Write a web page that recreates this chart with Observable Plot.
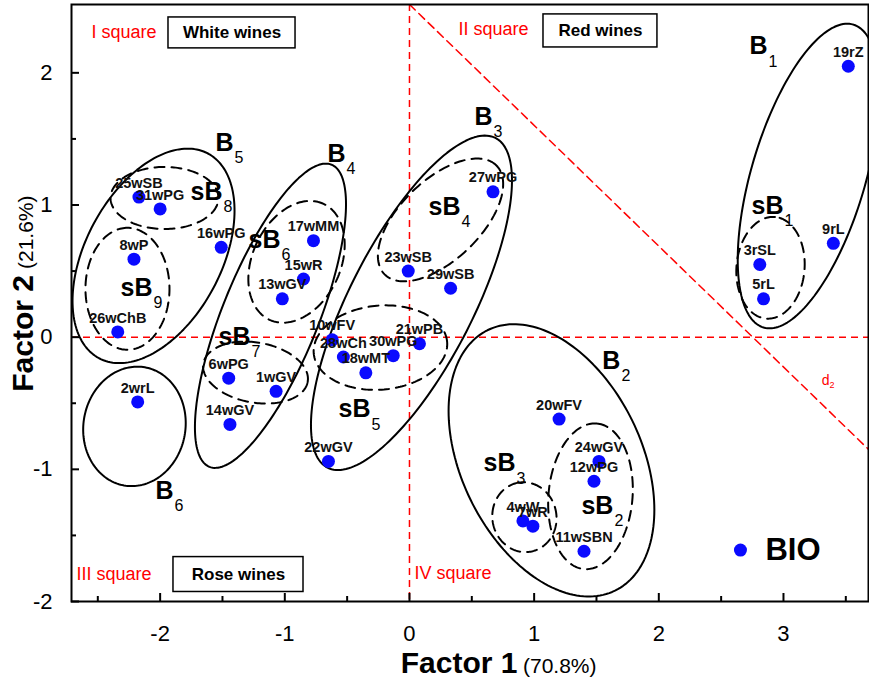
<!DOCTYPE html>
<html><head><meta charset="utf-8">
<script src="https://cdn.jsdelivr.net/npm/d3@7"></script>
<script src="https://cdn.jsdelivr.net/npm/@observablehq/plot@0.6"></script>
<style>body{margin:0;background:#fff} svg{display:block}</style>
</head><body><div id="chart"></div>
<script>
// ---- data: wine samples (Factor 1, Factor 2) ----
const sampleNames = ["19rZ","9rL","3rSL","5rL","27wPG","23wSB","29wSB","21wPB","30wPG","18wMT","28wCh","10wFV","22wGV","17wMM","15wR","13wGV","16wPG","6wPG","1wGV","14wGV","2wrL","25wSB","31wPG","8wP","26wChB","20wFV","24wGV","12wPG","4wW","7wR","11wSBN"];
const factor1 = [3.52,3.40,2.81,2.84,0.67,-0.01,0.33,0.08,-0.13,-0.35,-0.53,-0.62,-0.65,-0.77,-0.85,-1.02,-1.51,-1.45,-1.07,-1.44,-2.18,-2.17,-2.00,-2.21,-2.34,1.20,1.52,1.48,0.91,0.99,1.40];
const factor2 = [2.05,0.71,0.55,0.29,1.10,0.50,0.37,-0.05,-0.14,-0.27,-0.15,-0.02,-0.94,0.73,0.44,0.29,0.68,-0.31,-0.41,-0.66,-0.49,1.06,0.97,0.59,0.04,-0.62,-0.94,-1.09,-1.39,-1.43,-1.62];

// ---- cluster ellipses (centre in data units, semi-axes in Factor-1 units, angle in degrees) ----
const clusterIds   = ["B1","sB1","B2","sB2","sB3","B3","sB4","sB5","B4","sB6","sB7","B5","sB8","sB9","B6"];
const clusterCx    = [3.200,2.896,1.139,1.452,0.922,0.016,0.249,-0.233,-1.115,-0.906,-1.235,-2.053,-1.965,-2.262,-2.206];
const clusterCy    = [1.219,0.525,-0.932,-1.204,-1.362,0.260,0.887,-0.079,0.162,0.570,-0.268,0.615,1.053,0.366,-0.675];
const clusterA     = [1.267,0.409,1.163,0.586,0.281,1.484,0.626,0.537,1.307,0.513,0.425,0.930,0.433,0.489,0.481];
const clusterB     = [0.457,0.273,0.722,0.337,0.257,0.497,0.321,0.337,0.385,0.353,0.241,0.545,0.249,0.337,0.409];
const clusterAngle = [73.5,85,116,85,100,63,44,5,68,65,-10,62,0,90,80];
const clusterMain  = ["B","sB","B","sB","sB","B","sB","sB","B","sB","sB","B","sB","sB","B"];
const clusterSub   = ["1","1","2","2","3","3","4","5","4","6","7","5","8","9","6"];
const clusterLabelX = [2.872,3.000,1.692,1.636,0.850,0.666,0.409,-0.313,-0.513,-1.035,-1.275,-1.412,-1.500,-2.061,-1.893];
const clusterLabelY = [2.200,0.992,-0.177,-1.279,-0.955,1.664,0.985,-0.547,1.385,0.736,0.004,1.468,1.098,0.374,-1.166];

// ---- quadrant annotations ----
const squareNames = ["I square","II square","III square","IV square"];
const squareX = [-2.551,0.393,-2.671,0.040];
const squareY = [2.306,2.328,-1.792,-1.785];
const boxNames = ["White wines","Red wines","Rose wines"];
const boxX1 = [-1.933,1.075,-1.893];
const boxX2 = [-0.914,1.989,-0.850];
const boxY1 = [2.185,2.192,-1.928];
const boxY2 = [2.419,2.442,-1.664];
const d2Line = [{x:0,y:2.517},{x:3.682,y:-0.849}];
const d2Label = {x:3.369,y:-0.328};
const legendName = "BIO";
const legendPos = {x:2.655,y:-1.611};

const xTicks = [-2,-1,0,1,2,3];
const yTicks = [-2,-1,0,1,2];
const xMinor = [-2.5,-1.5,-0.5,0.5,1.5,2.5,3.5];
const yMinor = [-1.5,-0.5,0.5,1.5];

// ---- layout ----
const W=869,H=678,mL=71,mR=1,mT=4,mB=77;
const xDom=[-2.711,3.682], yDom=[-2,2.517];
const kx=(W-mL-mR)/(xDom[1]-xDom[0]);
const ky=(H-mT-mB)/(yDom[1]-yDom[0]);

const samples = sampleNames.map((n,i)=>({name:n,x:factor1[i],y:factor2[i]}));
const clusters = clusterIds.map((id,i)=>({id,cx:clusterCx[i],cy:clusterCy[i],a:clusterA[i],b:clusterB[i],angle:clusterAngle[i],dashed:id.startsWith("s"),main:clusterMain[i],sub:clusterSub[i],lx:clusterLabelX[i],ly:clusterLabelY[i]}));
function outline(e){
  const r=e.angle*Math.PI/180, pts=[];
  for(let i=0;i<=180;i++){
    const t=i/180*2*Math.PI, u=e.a*Math.cos(t), v=e.b*Math.sin(t);
    pts.push({id:e.id,x:e.cx+u*Math.cos(r)-v*Math.sin(r),y:e.cy+(u*Math.sin(r)+v*Math.cos(r))*kx/ky});
  }
  return pts;
}
const solidPts = clusters.filter(c=>!c.dashed).flatMap(outline);
const dashPts = clusters.filter(c=>c.dashed).flatMap(outline);
const squares = squareNames.map((n,i)=>({n,x:squareX[i],y:squareY[i]}));
const boxes = boxNames.map((n,i)=>({n,x1:boxX1[i],x2:boxX2[i],y1:boxY1[i],y2:boxY2[i]}));
const fmt = d=>String(d);

const FONT='"Liberation Sans", Arial, sans-serif';
const chart = Plot.plot({
  width:W,height:H,marginLeft:mL,marginRight:mR,marginTop:mT,marginBottom:mB,
  style:{fontFamily:FONT,background:"#fff",color:"#000"},
  x:{domain:xDom},
  y:{domain:yDom},
  marks:[
    Plot.ruleX([0],{stroke:"#ff0000",strokeWidth:1.5,strokeDasharray:"7,5"}),
    Plot.ruleY([0],{stroke:"#ff0000",strokeWidth:1.5,strokeDasharray:"7,5"}),
    Plot.line(d2Line,{x:"x",y:"y",stroke:"#ff0000",strokeWidth:1.5,strokeDasharray:"8,5",clip:true}),
    Plot.text([d2Label],{x:"x",y:"y",text:()=>"d",fill:"#ff0000",fontSize:14,textAnchor:"end"}),
    Plot.text([d2Label],{x:"x",y:"y",text:()=>"2",fill:"#ff0000",fontSize:9,textAnchor:"start",dx:0,dy:5}),
    Plot.line(solidPts,{x:"x",y:"y",z:"id",stroke:"#000",strokeWidth:2}),
    Plot.line(dashPts,{x:"x",y:"y",z:"id",stroke:"#000",strokeWidth:2,strokeDasharray:"10,7"}),
    Plot.rect(boxes,{x1:"x1",x2:"x2",y1:"y1",y2:"y2",fill:"#fff",stroke:"#000",strokeWidth:1.5}),
    Plot.text(boxes,{x:d=>(d.x1+d.x2)/2,y:d=>(d.y1+d.y2)/2,text:"n",fontSize:17,fontWeight:"bold",fill:"#000"}),
    Plot.text(squares,{x:"x",y:"y",text:"n",fontSize:18,fill:"#ff0000",textAnchor:"start"}),
    Plot.dot(samples,{x:"x",y:"y",r:6.5,fill:"#0a0aff",stroke:null}),
    Plot.text(samples,{x:"x",y:"y",text:"name",dy:-14,fontSize:14.5,fontWeight:"bold",fill:"#111"}),
    Plot.text(clusters,{x:"lx",y:"ly",text:"main",fontSize:25,fontWeight:"bold",textAnchor:"end",fill:"#000"}),
    Plot.text(clusters,{x:"lx",y:"ly",text:"sub",fontSize:16,textAnchor:"start",dx:1,dy:15,fill:"#000"}),
    Plot.dot([legendPos],{x:"x",y:"y",r:6.5,fill:"#0a0aff",stroke:null}),
    Plot.text([legendPos],{x:"x",y:"y",text:()=>legendName,fontSize:31,fontWeight:"bold",textAnchor:"start",dx:25,fill:"#000"}),
    Plot.frame({stroke:"#000",strokeWidth:2}),
    Plot.axisX({ticks:xTicks,tickFormat:fmt,tickSize:0,tickPadding:24,fontSize:22,label:null}),
    Plot.axisX({ticks:xTicks,tickSize:-8,text:null,strokeWidth:2,label:null}),
    Plot.axisX({ticks:xMinor,tickSize:-5,text:null,strokeWidth:2,label:null}),
    Plot.axisY({ticks:yTicks,tickFormat:fmt,tickSize:0,tickPadding:19,fontSize:22,label:null}),
    Plot.axisY({ticks:yTicks,tickSize:-8,text:null,strokeWidth:2,label:null}),
    Plot.axisY({ticks:yMinor,tickSize:-5,text:null,strokeWidth:2,label:null}),
    Plot.text(["Factor 1"],{frameAnchor:"bottom",text:d=>d,fontSize:30,fontWeight:"bold",textAnchor:"end",lineAnchor:"bottom",dx:47.5,dy:71}),
    Plot.text(["(70.8%)"],{frameAnchor:"bottom",text:d=>d,fontSize:21,textAnchor:"start",lineAnchor:"bottom",dx:53,dy:71}),
    Plot.text(["Factor 2"],{frameAnchor:"left",text:d=>d,fontSize:30,fontWeight:"bold",rotate:-90,textAnchor:"end",lineAnchor:"bottom",dx:-39,dy:-28}),
    Plot.text(["(21.6%)"],{frameAnchor:"left",text:d=>d,fontSize:21,rotate:-90,textAnchor:"start",lineAnchor:"bottom",dx:-39,dy:-34})
  ]
});
document.getElementById("chart").appendChild(chart);
</script>
</body></html>
